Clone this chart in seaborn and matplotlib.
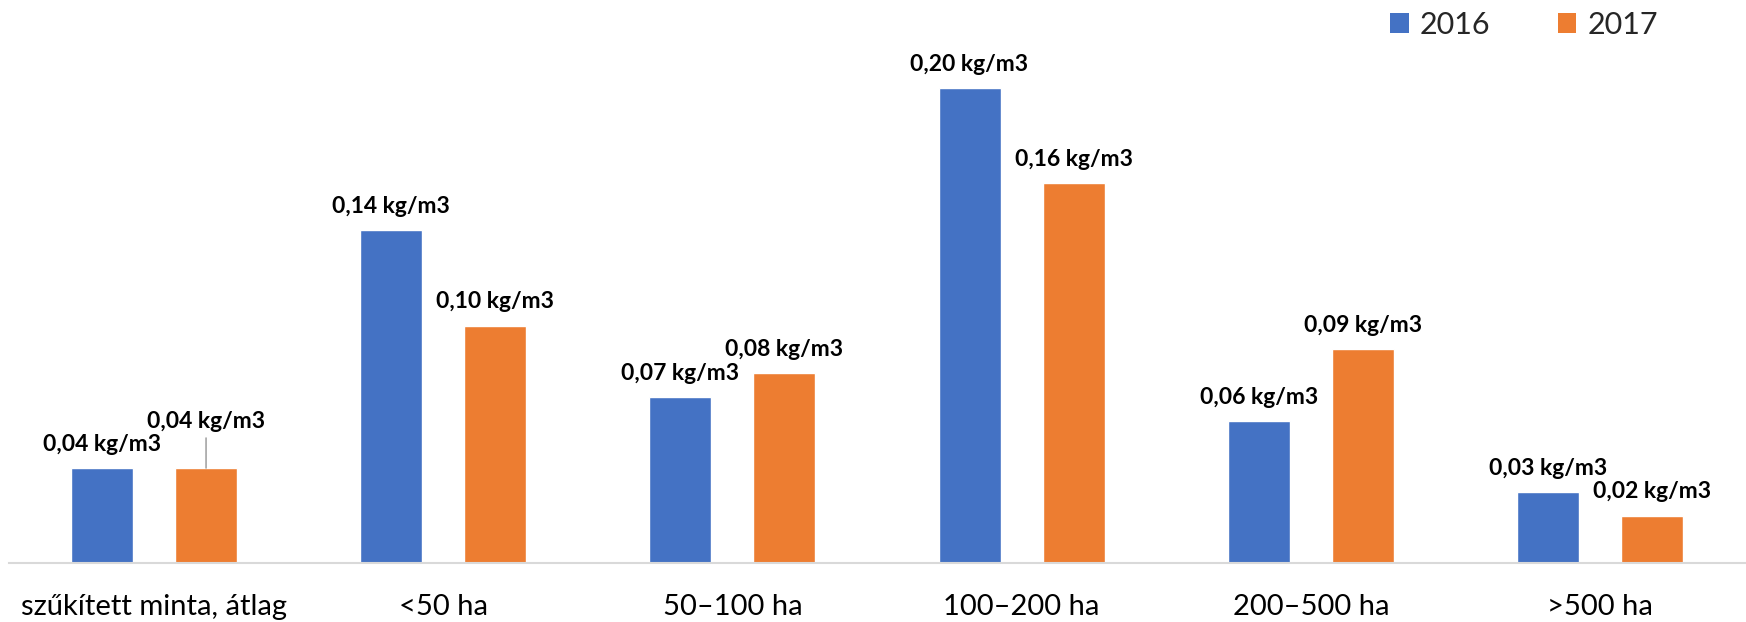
import matplotlib
matplotlib.use("Agg")
import matplotlib.pyplot as plt
import seaborn as sns
import pandas as pd
from matplotlib.patches import Patch

categories = ["szűkített minta, átlag", "<50 ha", "50–100 ha", "100–200 ha", "200–500 ha", ">500 ha"]
years = ["2016", "2017"]
values_2016 = [0.04, 0.14, 0.07, 0.20, 0.06, 0.03]
values_2017 = [0.04, 0.10, 0.08, 0.16, 0.09, 0.02]
colors = ["#4472C4", "#ED7D31"]

df = pd.DataFrame({
    "cat": categories * 2,
    "year": [years[0]] * len(categories) + [years[1]] * len(categories),
    "value": values_2016 + values_2017,
})

sns.set_theme(style="white")
plt.rcParams["font.family"] = ["Lato", "DejaVu Sans"]

W, H = 1746, 622
fig = plt.figure(figsize=(W / 100, H / 100), dpi=100)
ax = fig.add_axes([9.4 / W, (H - 563) / H, 1735.2 / W, 563 / H])

sns.barplot(data=df, x="cat", y="value", hue="year", order=categories, hue_order=years,
            palette=colors, width=0.72, gap=0.404, saturation=1, legend=False, ax=ax)

ax.set_ylim(0, 563 / 2375)
ax.set_xlim(-0.5, len(categories) - 0.5)
ax.set_xlabel("")
ax.set_ylabel("")
ax.set_yticks([])
for s in ["top", "left", "right"]:
    ax.spines[s].set_visible(False)
ax.spines["bottom"].set_color("#D9D9D9")
ax.spines["bottom"].set_linewidth(1.5)
ax.tick_params(axis="x", length=0, pad=22, labelsize=21, labelcolor="#000000")

series_vals = [values_2016, values_2017]
for ci, cont in enumerate(ax.containers):
    for bi, patch in enumerate(cont.patches):
        v = series_vals[ci][bi]
        x = patch.get_x() + patch.get_width() / 2
        h = patch.get_height()
        txt = f"{v:.2f}".replace(".", ",") + " kg/m3"
        if ci == 1 and bi == 0:
            ax.annotate(txt, xy=(x, h), xytext=(0, 40), textcoords="offset pixels",
                        ha="center", va="baseline", fontsize=16.5, fontweight="bold", color="#000000",
                        arrowprops=dict(arrowstyle="-", color="#A6A6A6", lw=1.2,
                                        shrinkA=2, shrinkB=0))
        else:
            ax.annotate(txt, xy=(x, h), xytext=(0, 17), textcoords="offset pixels",
                        ha="center", va="baseline", fontsize=16.5, fontweight="bold", color="#000000")

handles = [Patch(facecolor=c, edgecolor="none") for c in colors]
fig.legend(handles, years, loc="upper right", bbox_to_anchor=(1670 / W, 1.002), ncol=2,
           frameon=False, fontsize=22, handlelength=0.62, handleheight=0.62,
           handletextpad=0.35, columnspacing=2.2, borderaxespad=0.0)

fig.savefig("out.png", dpi=100)
